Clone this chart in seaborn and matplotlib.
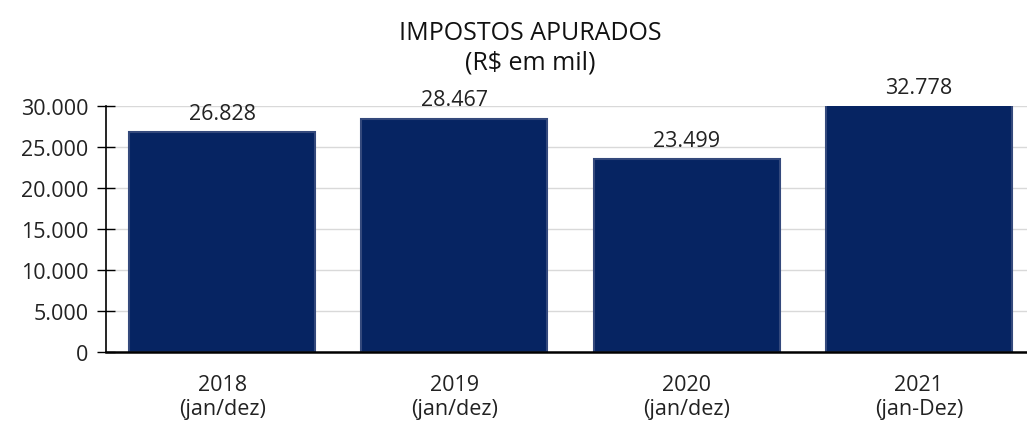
import matplotlib
matplotlib.use("Agg")
import matplotlib.pyplot as plt
import seaborn as sns
import pandas as pd
from matplotlib.ticker import FuncFormatter, FixedLocator

# ── data ─────────────────────────────────────────────────────────────────────
years = ["2018", "2019", "2020", "2021"]
periods = ["(jan/dez)", "(jan/dez)", "(jan/dez)", "(jan-Dez)"]
values = [26828, 28467, 23499, 32778]
y_max = 30000
y_step = 5000

df = pd.DataFrame({"cat": [f"{y}\n{p}" for y, p in zip(years, periods)],
                   "val": values})

sns.set_theme(style="white")
plt.rcParams["font.family"] = ["Open Sans", "DejaVu Sans"]

fig = plt.figure(figsize=(10.27, 4.27), dpi=100)
ax = fig.add_axes([106 / 1027, 1 - 353 / 427, 929 / 1027, 246 / 427])

sns.barplot(data=df, x="cat", y="val", color="#062462", width=0.8,
            edgecolor="#34497c", linewidth=1.5, saturation=1, ax=ax)

ax.set_xlim(-0.5, len(values) - 0.5)
ax.set_ylim(0, y_max)
ax.set_yticks(range(0, y_max + 1, y_step))
ax.yaxis.set_major_formatter(FuncFormatter(lambda v, _: f"{int(v):,}".replace(",", ".")))
ax.yaxis.grid(True, color="#d9d9d9", linewidth=1)
ax.set_axisbelow(True)

# category boundary ticks, labels at centers
ax.xaxis.set_major_locator(FixedLocator([0.5, 1.5, 2.5]))
ax.xaxis.set_minor_locator(FixedLocator(range(len(values))))
ax.set_xticklabels([])
ax.set_xticklabels(df["cat"], minor=True)
ax.tick_params(axis="x", which="major", direction="inout", length=12, width=1, color="black")
ax.tick_params(axis="x", which="minor", length=0, pad=16, labelsize=15.5, labelcolor="#222222")
ax.tick_params(axis="y", direction="inout", length=13, width=1, color="black",
               labelsize=15.5, labelcolor="#222222", pad=6, left=True)

for s in ["top", "right"]:
    ax.spines[s].set_visible(False)
ax.spines["left"].set_color("black")
ax.spines["bottom"].set_color("black")
ax.spines["left"].set_linewidth(1.2)
ax.spines["bottom"].set_linewidth(1.8)
ax.set_xlabel("")
ax.set_ylabel("")

for i, v in enumerate(values):
    ax.annotate(f"{v:,}".replace(",", "."), (i, min(v, y_max)), xytext=(0, 13.5),
                textcoords="offset points", ha="center", va="center",
                fontsize=15.5, color="#222222", annotation_clip=False)

fig.text(530 / 1027, 1 - 34 / 427, "IMPOSTOS APURADOS", ha="center", va="center",
         fontsize=18, color="#111111")
fig.text(530 / 1027, 1 - 63 / 427, "(R$ em mil)", ha="center", va="center",
         fontsize=18, color="#111111")

fig.savefig("out.png", dpi=100)
